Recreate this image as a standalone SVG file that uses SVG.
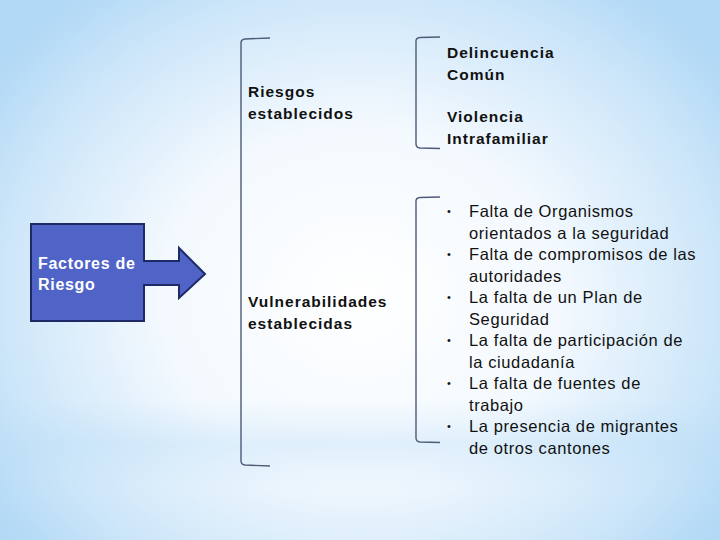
<svg xmlns="http://www.w3.org/2000/svg" width="720" height="540" viewBox="0 0 720 540">
<defs>
<radialGradient id="bg" cx="0.5" cy="0.55" r="0.62" gradientTransform="translate(0.5 0.55) scale(1 1.15) translate(-0.5 -0.55)">
<stop offset="0" stop-color="#ffffff"/>
<stop offset="0.45" stop-color="#f3f9fe"/>
<stop offset="0.8" stop-color="#cde6f9"/>
<stop offset="1" stop-color="#b2d9f6"/>
</radialGradient>
<linearGradient id="band" x1="0" y1="0" x2="0" y2="1">
<stop offset="0" stop-color="#b8dcf6" stop-opacity="0"/>
<stop offset="0.5" stop-color="#b8dcf6" stop-opacity="0.35"/>
<stop offset="1" stop-color="#b8dcf6" stop-opacity="0"/>
</linearGradient>
<style>
.br{fill:none;stroke:#4d5b78;stroke-width:1.4}
.lb{font-family:"Liberation Sans","DejaVu Sans",sans-serif;font-weight:bold;font-size:15.5px;letter-spacing:1px;fill:#111}
.it{font-family:"Liberation Sans","DejaVu Sans",sans-serif;font-size:16.5px;letter-spacing:0.6px;fill:#111}
.bu{font-family:"Liberation Sans","DejaVu Sans",sans-serif;font-size:11px;fill:#111}
.wt{font-family:"Liberation Sans","DejaVu Sans",sans-serif;font-weight:bold;font-size:16px;letter-spacing:0.7px;fill:#fff}
</style>
</defs>
<rect width="720" height="540" fill="url(#bg)"/>
<rect x="0" y="400" width="720" height="90" fill="url(#band)"/>

<g id="factores">
<path d="M31 224 H144 V261 H179 V248 L205 274 L179 298 V285 H144 V321 H31 Z" fill="#5064c8" stroke="#1e2a66" stroke-width="2" stroke-linejoin="miter"/>
<text class="wt" x="38" y="269">Factores de</text>
<text class="wt" x="38" y="290">Riesgo</text>
</g>

<g id="connectors">
<path class="br" d="M270 38 L245 39 Q241 39.5 241 43 V461 Q241 464.5 245 465 L270 466"/>
<path class="br" d="M440 37 L420 37.5 Q416 38 416 41 V144 Q416 147.5 420 148 L440 148.5"/>
<path class="br" d="M440 197 L420 197.5 Q416 198 416 201 V438 Q416 441.5 420 442 L440 442.5"/>
</g>

<g id="riesgos">
<text class="lb" x="248" y="97">Riesgos</text>
<text class="lb" x="248" y="119">establecidos</text>
</g>

<g id="vulnerabilidades">
<text class="lb" x="248" y="307">Vulnerabilidades</text>
<text class="lb" x="248" y="329">establecidas</text>
</g>

<g id="delincuencia">
<text class="lb" x="447" y="58">Delincuencia</text>
<text class="lb" x="447" y="80">Común</text>
</g>

<g id="violencia">
<text class="lb" x="447" y="122">Violencia</text>
<text class="lb" x="447" y="144">Intrafamiliar</text>
</g>

<g id="lista">
<text class="bu" x="447" y="215">•</text>
<text class="it" x="469" y="217">Falta de Organismos</text>
<text class="it" x="469" y="238.5">orientados a la seguridad</text>
<text class="bu" x="447" y="258">•</text>
<text class="it" x="469" y="260">Falta de compromisos de las</text>
<text class="it" x="469" y="281.5">autoridades</text>
<text class="bu" x="447" y="301">•</text>
<text class="it" x="469" y="303">La falta de un Plan de</text>
<text class="it" x="469" y="324.5">Seguridad</text>
<text class="bu" x="447" y="344">•</text>
<text class="it" x="469" y="346">La falta de participación de</text>
<text class="it" x="469" y="367.5">la ciudadanía</text>
<text class="bu" x="447" y="387">•</text>
<text class="it" x="469" y="389">La falta de fuentes de</text>
<text class="it" x="469" y="410.5">trabajo</text>
<text class="bu" x="447" y="430">•</text>
<text class="it" x="469" y="432">La presencia de migrantes</text>
<text class="it" x="469" y="453.5">de otros cantones</text>
</g>
</svg>
